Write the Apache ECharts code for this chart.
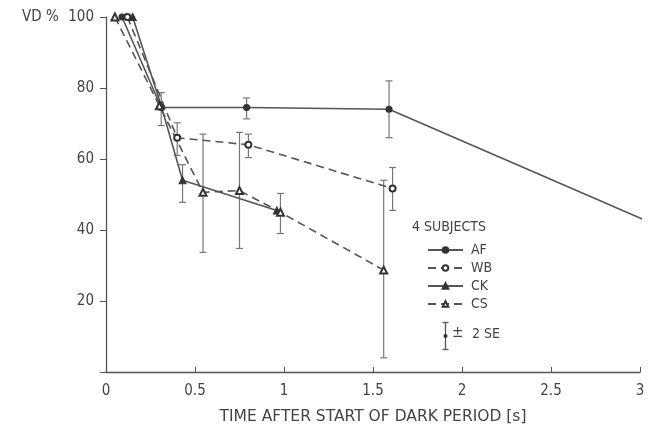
<!DOCTYPE html>
<html>
<head>
<meta charset="utf-8">
<script src="https://cdn.jsdelivr.net/npm/echarts@6/dist/echarts.min.js"></script>
<style>html,body{margin:0;padding:0;background:#fff;}#c{width:653px;height:435px;}</style>
</head>
<body>
<div id="c"></div>
<script>
// ---- data ----
const subjects = ['AF', 'WB', 'CK', 'CS'];
const afX = [0.09, 0.31, 0.79, 1.59, 3.06];
const afY = [100, 74.5, 74.5, 74, 42.1];
const wbX = [0.12, 0.40, 0.80, 1.61];
const wbY = [100, 66, 64, 51.7];
const ckX = [0.15, 0.31, 0.43, 0.96];
const ckY = [100, 75, 54, 45.5];
const csX = [0.05, 0.30, 0.545, 0.75, 0.98, 1.56];
const csY = [100, 75, 50.6, 51.1, 45, 28.7];
// error bars (±2 SE): x, low, high
const errX  = [0.31, 0.79, 1.59, 0.40, 0.80, 1.61, 0.43, 0.545, 0.75, 0.98, 1.56];
const errLo = [69.4, 71.3, 66,   61,   60.4, 45.5, 47.8, 33.7,  34.8, 39,   4];
const errHi = [78.7, 77.2, 82,   70.2, 67,   57.6, 58.4, 67,    67.5, 50.3, 54];
const xTicks = ['0', '0.5', '1', '1.5', '2', '2.5', '3'];
const yTicks = ['20', '40', '60', '80', '100'];

const FONT = '"DejaVu Sans Condensed","DejaVu Sans",sans-serif';
const INK = '#444';
const LINE = '#555';

function pts(xs, ys) {
  return xs.map((x, i) => {
    const item = { value: [x, ys[i]] };
    if (x > 3) item.symbol = 'none';
    return item;
  });
}

const styles = {
  AF: { symbol: 'circle', dash: 'solid', size: 6 },
  WB: { symbol: 'emptyCircle', dash: [8, 5], size: 6 },
  CK: { symbol: 'triangle', dash: 'solid', size: 7 },
  CS: { symbol: 'emptyTriangle', dash: [8, 5], size: 7 }
};
const dataMap = { AF: [afX, afY], WB: [wbX, wbY], CK: [ckX, ckY], CS: [csX, csY] };

const lineSeries = subjects.map(name => ({
  name,
  type: 'line',
  clip: false,
  data: pts(dataMap[name][0], dataMap[name][1]),
  symbol: styles[name].symbol,
  symbolSize: styles[name].size,
  lineStyle: { color: LINE, width: 1.6, type: styles[name].dash },
  itemStyle: { color: '#333', borderColor: '#333', borderWidth: 1.1 },
  z: 3
}));

const errSeries = {
  type: 'custom',
  name: 'err',
  data: errX.map((x, i) => [x, errLo[i], errHi[i]]),
  renderItem: function (params, api) {
    const lo = api.coord([api.value(0), api.value(1)]);
    const hi = api.coord([api.value(0), api.value(2)]);
    const w = 3.5;
    const st = { stroke: '#777', lineWidth: 1.2 };
    return {
      type: 'group',
      children: [
        { type: 'line', shape: { x1: lo[0], y1: lo[1], x2: hi[0], y2: hi[1] }, style: st },
        { type: 'line', shape: { x1: lo[0] - w, y1: lo[1], x2: lo[0] + w, y2: lo[1] }, style: st },
        { type: 'line', shape: { x1: hi[0] - w, y1: hi[1], x2: hi[0] + w, y2: hi[1] }, style: st }
      ]
    };
  },
  z: 2
};

const chart = echarts.init(document.getElementById('c'));
chart.setOption({
  animation: false,
  backgroundColor: '#fff',
  grid: { left: 106, right: 13, top: 17, bottom: 63 },
  xAxis: {
    type: 'value', min: 0, max: 3, interval: 0.5,
    name: 'TIME AFTER START OF DARK PERIOD [s]',
    nameLocation: 'middle', nameGap: 37,
    nameTextStyle: { fontFamily: '"DejaVu Sans",sans-serif', fontSize: 15.5, color: INK },
    axisLine: { lineStyle: { color: '#555', width: 1.3 } },
    axisTick: { inside: true, length: 5, lineStyle: { color: '#555' } },
    axisLabel: {
      margin: 12, fontFamily: FONT, fontSize: 15, color: INK,
      formatter: v => xTicks[Math.round(v / 0.5)]
    },
    splitLine: { show: false }
  },
  yAxis: {
    type: 'value', min: 0, max: 100, interval: 20,
    axisLine: { show: true, lineStyle: { color: '#555', width: 1.3 } },
    axisTick: { show: true, length: 6, lineStyle: { color: '#555' }, interval: 0 },
    axisLabel: {
      margin: 12, fontFamily: FONT, fontSize: 15, color: INK,
      formatter: v => (v === 0 ? '' : yTicks[Math.round(v / 20) - 1])
    },
    splitLine: { show: false }
  },
  legend: {
    data: subjects,
    orient: 'vertical',
    left: 427, top: 243,
    itemWidth: 35, itemHeight: 7, itemGap: 4,
    padding: 0,
    textStyle: { fontFamily: FONT, fontSize: 14, color: INK, padding: [0, 0, 0, 3] },
    selectedMode: false
  },
  graphic: [
    { type: 'text', left: 22, top: 10, style: { text: 'VD %', font: '15px ' + FONT, fill: INK } },
    { type: 'text', left: 412, top: 220, style: { text: '4 SUBJECTS', font: '14px ' + FONT, fill: INK } },
    { type: 'group', left: 440, top: 320, children: [
      { type: 'line', shape: { x1: 4, y1: 0, x2: 4, y2: 27 }, style: { stroke: '#555', lineWidth: 1.3 } },
      { type: 'line', shape: { x1: 1, y1: 0, x2: 7, y2: 0 }, style: { stroke: '#555', lineWidth: 1.3 } },
      { type: 'line', shape: { x1: 1, y1: 27, x2: 7, y2: 27 }, style: { stroke: '#555', lineWidth: 1.3 } },
      { type: 'circle', shape: { cx: 4, cy: 13.5, r: 2 }, style: { fill: '#333' } }
    ] },
    { type: 'text', left: 452, top: 326, style: { text: '±', font: '15px ' + FONT, fill: INK } },
    { type: 'text', left: 472, top: 327, style: { text: '2 SE', font: '14px ' + FONT, fill: INK } }
  ],
  series: [errSeries].concat(lineSeries)
});
</script>
</body>
</html>
